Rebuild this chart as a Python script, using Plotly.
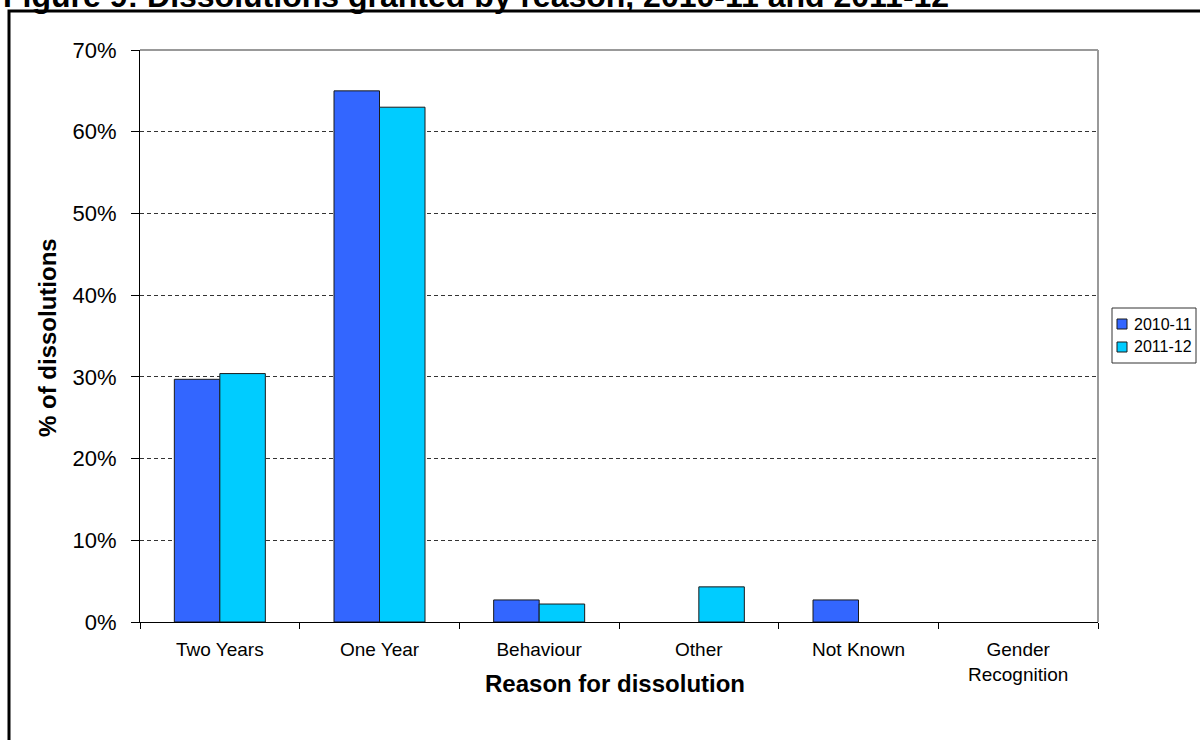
import plotly.graph_objects as go

# Data: share of dissolutions granted, by reason
reasons = ["Two Years", "One Year", "Behaviour", "Other", "Not Known", "Gender<br>Recognition"]
share_2010_11 = [0.297, 0.650, 0.027, 0.0, 0.027, 0.0]
share_2011_12 = [0.304, 0.630, 0.022, 0.043, 0.0, 0.0]
series_names = ["2010-11", "2011-12"]
series_colors = ["#3366FF", "#00CCFF"]
y_ticks = [0, 0.1, 0.2, 0.3, 0.4, 0.5, 0.6, 0.7]

W, H = 1200, 740
L, R, T, B = 140, 102, 50, 118
pw, ph = W - L - R, H - T - B


def px_x(p):
    return (p - L) / pw


def px_y(p):
    return (H - B - p) / ph


FONT = "Liberation Sans, Arial, sans-serif"

fig = go.Figure()
for name, vals, color in zip(series_names, [share_2010_11, share_2011_12], series_colors):
    fig.add_trace(go.Bar(
        x=reasons, y=vals, name=name,
        marker=dict(color=color,
                    line=dict(color="#1a1a1a", width=[1 if v > 0 else 0 for v in vals])),
    ))

# Hand-drawn legend box with swatches
legend_shapes = [
    dict(type="rect", xref="paper", yref="paper",
         x0=px_x(1112), x1=px_x(1196), y0=px_y(363), y1=px_y(308),
         line=dict(color="#333", width=1), fillcolor="white"),
]
legend_notes = []
for i, (name, color) in enumerate(zip(series_names, series_colors)):
    cy = 324 + i * 23
    legend_shapes.append(dict(
        type="rect", xref="paper", yref="paper",
        x0=px_x(1117), x1=px_x(1127), y0=px_y(cy + 5), y1=px_y(cy - 5),
        line=dict(color="#1a1a1a", width=1), fillcolor=color))
    legend_notes.append(dict(
        text=name, xref="paper", yref="paper", x=px_x(1132), y=px_y(cy),
        xanchor="left", yanchor="middle", showarrow=False,
        font=dict(size=16, family=FONT)))

fig.update_layout(
    width=W, height=H,
    margin=dict(l=L, r=R, t=T, b=B),
    paper_bgcolor="white", plot_bgcolor="white",
    barmode="group", bargap=0.43, bargroupgap=0.0,
    font=dict(family=FONT, color="black"),
    showlegend=False,
    xaxis=dict(
        showline=True, linecolor="black", linewidth=1,
        ticks="outside", ticklen=6, tickcolor="black", tickson="boundaries",
        tickfont=dict(size=19, family=FONT), ticklabelstandoff=10,
        showgrid=False, fixedrange=True,
    ),
    yaxis=dict(
        range=[0, 0.7], tickvals=y_ticks, tickformat=".0%",
        showline=True, linecolor="black", linewidth=1,
        ticks="outside", ticklen=8, tickcolor="black",
        tickfont=dict(size=22, family=FONT), ticklabelstandoff=10,
        showgrid=True, gridcolor="#333", gridwidth=1, griddash="4px,3px",
        zeroline=False,
    ),
    shapes=[
        # solid top and right edges of plot area
        dict(type="line", xref="paper", yref="paper", x0=0, x1=1, y0=1, y1=1,
             line=dict(color="#999", width=2)),
        dict(type="line", xref="paper", yref="paper", x0=1, x1=1, y0=0, y1=1,
             line=dict(color="#999", width=2)),
        # outer frame
        dict(type="rect", xref="paper", yref="paper",
             x0=px_x(9), x1=px_x(1210), y0=px_y(760), y1=px_y(11),
             line=dict(color="black", width=3), fillcolor="rgba(0,0,0,0)"),
    ] + legend_shapes,
    annotations=[
        dict(text="<b>Figure 9: Dissolutions granted by reason, 2010-11 and 2011-12</b>",
             xref="paper", yref="paper", x=px_x(1), y=px_y(16),
             xanchor="left", yanchor="bottom", showarrow=False,
             font=dict(size=32, family=FONT)),
        dict(text="<b>Reason for dissolution</b>",
             xref="paper", yref="paper", x=px_x(615), y=px_y(683),
             xanchor="center", yanchor="middle", showarrow=False,
             font=dict(size=24, family=FONT)),
        dict(text="<b>% of dissolutions</b>",
             xref="paper", yref="paper", x=px_x(47), y=px_y(338),
             xanchor="center", yanchor="middle", showarrow=False, textangle=-90,
             font=dict(size=24, family=FONT)),
    ] + legend_notes,
)

fig.write_html("out.html")
